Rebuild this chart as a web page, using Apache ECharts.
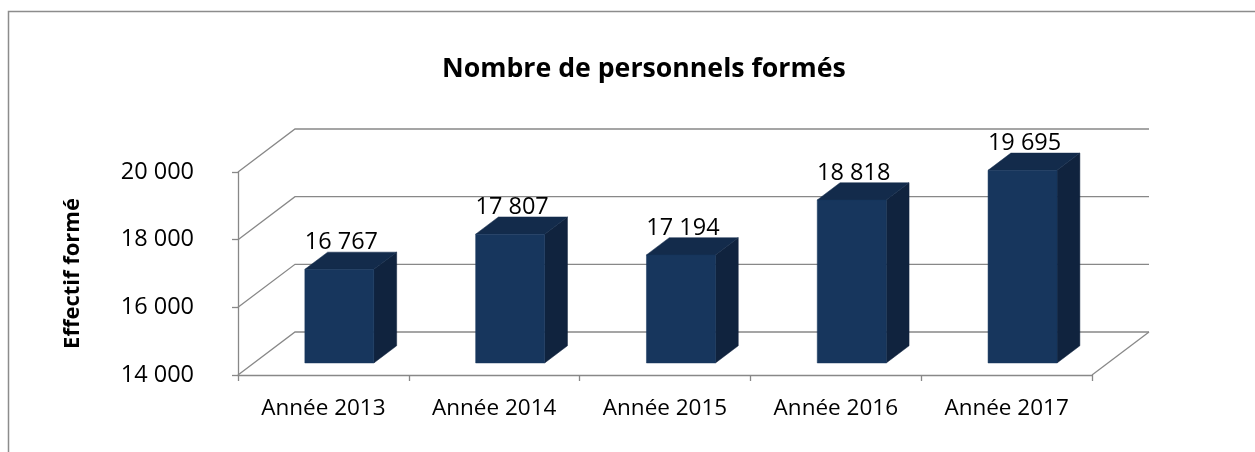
<!DOCTYPE html>
<html>
<head>
<meta charset="utf-8">
<script src="https://cdn.jsdelivr.net/npm/echarts@6/dist/echarts.min.js"></script>
<style>
html,body{margin:0;padding:0;background:#fff;}
#chart{width:1255px;height:452px;}
</style>
</head>
<body>
<div id="chart"></div>
<script>
var categories = ['Année 2013', 'Année 2014', 'Année 2015', 'Année 2016', 'Année 2017'];
var values = [16767, 17807, 17194, 18818, 19695];
var yTicks = [14000, 16000, 18000, 20000];
var chartTitle = 'Nombre de personnels formés';
var yAxisTitle = 'Effectif formé';

var FONT = 'Open Sans';
var GRAY = '#888888';
var DX = 57, DY = 43;          // depth of the 3D walls
var F1 = 0.28, F2 = 0.68;      // bar depth position (front/back fraction)
var BAR_W = 0.404;             // bar width as fraction of band

function fmt(v) { return String(v).replace(/\B(?=(\d{3})+(?!\d))/g, ' '); }

var chart = echarts.init(document.getElementById('chart'));

var wallData = yTicks.map(function (t) { return [0, t]; });
var barData = values.map(function (v, i) { return [i, v]; });
var yMin = yTicks[0], yMax = yTicks[yTicks.length - 1];

chart.setOption({
  animation: false,
  title: {
    text: chartTitle,
    left: 437,
    top: 51,
    textStyle: { fontFamily: FONT, fontSize: 26.7, fontWeight: 'bold', color: '#000' }
  },
  graphic: [{
    type: 'rect',
    shape: { x: 8.5, y: 11.5, width: 1300, height: 500 },
    style: { fill: 'none', stroke: '#8c8c8c', lineWidth: 1.5 },
    silent: true, z: -10
  }],
  grid: { left: 238, right: 163, top: 172, bottom: 77 },
  xAxis: {
    type: 'category',
    data: categories,
    boundaryGap: true,
    axisLine: { show: true, lineStyle: { color: GRAY, width: 1.3 } },
    axisTick: { show: true, length: 6, lineStyle: { color: GRAY, width: 1.3 } },
    axisLabel: { color: '#000', fontFamily: FONT, fontSize: 22.5, margin: 22 },
    splitLine: { show: false }
  },
  yAxis: {
    type: 'value',
    min: yMin, max: yMax, interval: 2000,
    name: yAxisTitle,
    nameLocation: 'middle',
    nameRotate: 90,
    nameGap: 154,
    nameTextStyle: { fontFamily: FONT, fontSize: 22, fontWeight: 'bold', color: '#000' },
    axisLine: { show: true, lineStyle: { color: GRAY, width: 1.3 } },
    axisTick: { show: true, length: 6, lineStyle: { color: GRAY, width: 1.3 } },
    axisLabel: { color: '#000', fontFamily: FONT, fontSize: 23.5, margin: 44, formatter: fmt },
    splitLine: { show: false }
  },
  series: [
    {
      type: 'custom',
      name: 'walls',
      data: wallData,
      clip: false,
      silent: true,
      z: 1,
      renderItem: function (params, api) {
        var cs = params.coordSys;
        var y = api.coord([0, api.value(1)])[1];
        var x0 = cs.x, x1 = cs.x + cs.width;
        var children = [{
          type: 'polyline',
          shape: { points: [[x0, y], [x0 + DX, y - DY], [x1 + DX, y - DY]] },
          style: { fill: 'none', stroke: GRAY, lineWidth: 1.3 }
        }];
        if (api.value(1) === yMin) {
          children.push({
            type: 'line',
            shape: { x1: x1, y1: y, x2: x1 + DX, y2: y - DY },
            style: { stroke: GRAY, lineWidth: 1.3 }
          });
        }
        return { type: 'group', children: children };
      }
    },
    {
      type: 'custom',
      name: 'Effectif',
      data: barData,
      clip: false,
      z: 2,
      renderItem: function (params, api) {
        var i = api.value(0), v = api.value(1);
        var c = api.coord([i, v]);
        var b = api.coord([i, yMin]);
        var bw = api.size([1, 0])[0] * BAR_W;
        var ox = DX * F1, oy = DY * F1;
        var dxb = DX * (F2 - F1), dyb = DY * (F2 - F1);
        var x0 = c[0] - bw / 2 + ox, x1 = c[0] + bw / 2 + ox;
        var yt = c[1] - oy, yb = b[1] - oy;
        return {
          type: 'group',
          children: [
            { type: 'polygon', shape: { points: [[x1, yt], [x1 + dxb, yt - dyb], [x1 + dxb, yb - dyb], [x1, yb]] },
              style: { fill: '#10233e', stroke: '#10233e', lineWidth: 0.5 } },
            { type: 'polygon', shape: { points: [[x0, yt], [x1, yt], [x1 + dxb, yt - dyb], [x0 + dxb, yt - dyb]] },
              style: { fill: '#132b4b', stroke: '#132b4b', lineWidth: 0.5 } },
            { type: 'rect', shape: { x: x0, y: yt, width: x1 - x0, height: yb - yt },
              style: { fill: '#17365d', stroke: '#17365d', lineWidth: 0.5 } },
            { type: 'text', x: (x0 + x1) / 2 + 2, y: yt - 27,
              style: { text: fmt(v), fill: '#000', font: '23.5px "' + FONT + '"', align: 'center', verticalAlign: 'middle' } }
          ]
        };
      }
    }
  ]
});
</script>
</body>
</html>
